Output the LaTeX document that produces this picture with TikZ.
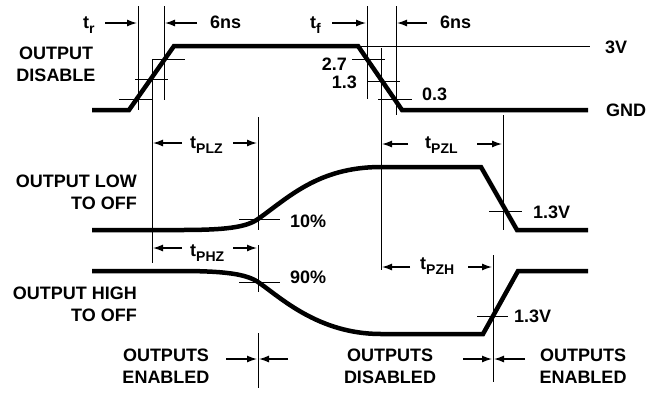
\documentclass[tikz,border=0pt]{standalone}
\usepackage{fontspec}
\setmainfont{Liberation Sans}
\usetikzlibrary{arrows.meta,calc}
\newcommand\tsub[1]{t\raisebox{-5pt}{\fontsize{14}{14}\selectfont #1}}

\begin{document}
\begin{tikzpicture}[x=1pt,y=-1pt,
		wave/.style={line width=4.5pt},
		guide/.style={line width=1pt},
		dim/.style={line width=1.3pt,-{Latex[length=10pt,width=7pt]}},
		lbl/.style={font=\bfseries\fontsize{18}{22}\selectfont,inner sep=0pt}]
			%%%%% START %%%%%
			\useasboundingbox (0,0) rectangle (656,392);
			
			\draw[wave] (92,110) -- (129,110) -- (174,46) -- (358,46) -- (402,110) -- (588,110);
			\draw[guide] (358,46) -- (590,46);
			
			\draw[wave] (92,230) -- (180,230) .. controls (225,230) and (246,227.5) .. (258,219)
				.. controls (288,198) and (318,167) .. (381,167) -- (481,167) -- (517,230) -- (588,230);
			\draw[wave] (92,271) -- (180,271) .. controls (225,271) and (246,274) .. (258,282)
				.. controls (280,297) and (318,334) .. (381,334) -- (483,334) -- (518,271) -- (588,271);
			
			\draw[guide] (138,6) -- (138,110);
			\draw[guide] (164,6) -- (164,100);
			\draw[guide] (152,60) -- (152,263);
			\draw[guide] (367,6) -- (367,99);
			\draw[guide] (396,6) -- (396,115);
			\draw[guide] (381,48) -- (381,270);
			\draw[guide] (258,117) -- (258,230);
			\draw[guide] (258,245) -- (258,292);
			\draw[guide] (258,333) -- (258,388);
			\draw[guide] (503,115) -- (503,230);
			\draw[guide] (493,255) -- (493,382);
			
			\draw[guide] (119,99) -- (152,99);
			\draw[guide] (135,79) -- (168,79);
			\draw[guide] (152,59) -- (185,59);
			\draw[guide] (352,59) -- (385,59);
			\draw[guide] (367,81) -- (400,81);
			\draw[guide] (378,99) -- (412,99);
			\draw[guide] (239,219) -- (280,219);
			\draw[guide] (239,282) -- (280,282);
			\draw[guide] (489,211) -- (522,211);
			\draw[guide] (477,316) -- (508,316);
			
			\node[lbl,align=center,anchor=north] (dis) at (56,46.5) {OUTPUT\\DISABLE};
			\node[lbl,align=right,anchor=north east] (low) at (137,175) {OUTPUT LOW\\TO OFF};
			\node[lbl,align=right,anchor=north east] (high) at (137,286.5) {OUTPUT HIGH\\TO OFF};
			\node[lbl,align=center,anchor=north] (enA) at (166,349) {OUTPUTS\\ENABLED};
			\node[lbl,align=center,anchor=north] (disB) at (390,349) {OUTPUTS\\DISABLED};
			\node[lbl,align=center,anchor=north] (enB) at (583,349) {OUTPUTS\\ENABLED};
			
			\node[lbl,anchor=base west] (tr) at (83,28) {\tsub{r}};
			\node[lbl,anchor=base west] (nsA) at (210,28.3) {6ns};
			\node[lbl,anchor=base west] (tf) at (310,28) {\tsub{f}};
			\node[lbl,anchor=base west] (nsB) at (440,28.3) {6ns};
			\node[lbl,anchor=base east] (v27) at (347,70) {2.7};
			\node[lbl,anchor=base east] (v13) at (357,88.3) {1.3};
			\node[lbl,anchor=base west] (v03) at (422,100) {0.3};
			\node[lbl,anchor=base west] (v3) at (605,53) {3V};
			\node[lbl,anchor=base west] (gnd) at (606,116.7) {GND};
			\node[lbl,anchor=base west] (plz) at (190,148.5) {\tsub{PLZ}};
			\node[lbl,anchor=base west] (pzl) at (425,148.5) {\tsub{PZL}};
			\node[lbl,anchor=base west] (phz) at (190,256) {\tsub{PHZ}};
			\node[lbl,anchor=base west] (pzh) at (420,269) {\tsub{PZH}};
			\node[lbl,anchor=base west] (pct10) at (290,227) {10\%};
			\node[lbl,anchor=base west] (pct90) at (290,283) {90\%};
			\node[lbl,anchor=base west] (vlow) at (533,218) {1.3V};
			\node[lbl,anchor=base west] (vhigh) at (514,322.5) {1.3V};
			
			\draw[dim] (105,23) -- (137,23);
			\draw[dim] (197,23) -- (165,23);
			\draw[dim] (332,23) -- (366,23);
			\draw[dim] (427,23) -- (397,23);
			\draw[dim] (182,143) -- (153,143);
			\draw[dim] (233,143) -- (257,143);
			\draw[dim] (408,144) -- (382,144);
			\draw[dim] (477,144) -- (502,144);
			\draw[dim] (182,248) -- (153,248);
			\draw[dim] (233,248) -- (257,248);
			\draw[dim] (410,267) -- (382,267);
			\draw[dim] (468,267) -- (492,267);
			\draw[dim] (226,359) -- (257,359);
			\draw[dim] (288,359) -- (259,359);
			\draw[dim] (463,359) -- (492,359);
			\draw[dim] (525,359) -- (494,359);
			
			%%%%% END %%%%%
\end{tikzpicture}
\end{document}
